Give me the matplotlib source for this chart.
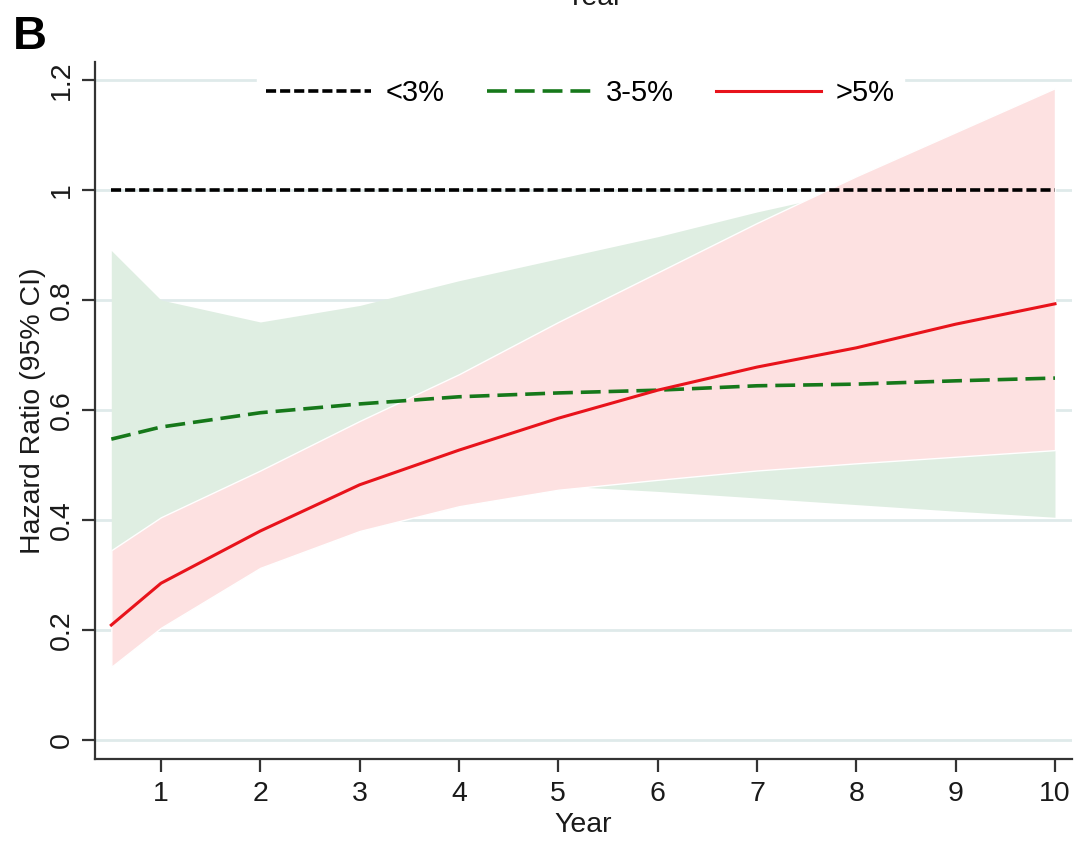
import numpy as np
import matplotlib
matplotlib.use("Agg")
import matplotlib.pyplot as plt

plt.rcParams["font.family"] = ["Liberation Sans", "DejaVu Sans"]

# ---- data ----
years = [0.5, 1, 2, 3, 4, 5, 6, 7, 8, 9, 10]

ref_hr = [1, 1, 1, 1, 1, 1, 1, 1, 1, 1, 1]

mid_hr = [0.547, 0.569, 0.595, 0.611, 0.624, 0.631, 0.636, 0.644, 0.647, 0.653, 0.658]
mid_lo = [0.34, 0.40, 0.45, 0.47, 0.47, 0.462, 0.452, 0.44, 0.428, 0.416, 0.405]
mid_hi = [0.89, 0.80, 0.76, 0.79, 0.835, 0.875, 0.915, 0.96, 1.0, 1.04, 1.08]

high_hr = [0.209, 0.285, 0.38, 0.464, 0.527, 0.585, 0.636, 0.678, 0.713, 0.756, 0.793]
high_lo = [0.133, 0.204, 0.313, 0.38, 0.425, 0.455, 0.473, 0.49, 0.503, 0.515, 0.527]
high_hi = [0.345, 0.405, 0.49, 0.58, 0.665, 0.76, 0.85, 0.94, 1.025, 1.105, 1.185]

labels = ["<3%", "3-5%", ">5%"]
yticks = [0, 0.2, 0.4, 0.6, 0.8, 1, 1.2]
ytick_labels = ["0", "0.2", "0.4", "0.6", "0.8", "1", "1.2"]
xticks = [1, 2, 3, 4, 5, 6, 7, 8, 9, 10]

# ---- figure ----
fig = plt.figure(figsize=(10.78, 8.42), dpi=100)
ax = fig.add_axes([0.0881, 0.0986, 0.9063, 0.8278])

for yt in yticks:
    ax.axhline(yt, color="#dfeaea", lw=2, zorder=0)

ax.fill_between(years, mid_lo, mid_hi, color="#dfeee2", lw=0, zorder=1)
ax.fill_between(years, high_lo, high_hi, facecolor="#fde1e1", edgecolor="white",
                lw=1, zorder=2)

l1, = ax.plot(years, ref_hr, color="black", lw=2.6, dashes=(2.8, 1.1), zorder=3)
l2, = ax.plot(years, mid_hr, color="#16781a", lw=2.6, dashes=(5.5, 2.2), zorder=4)
l3, = ax.plot(years, high_hr, color="#e8131b", lw=2.2, zorder=5)

ax.set_xlim(0.3355, 10.171)
ax.set_ylim(-0.0345, 1.2327)

ax.set_xticks(xticks)
ax.set_yticks(yticks)
ax.set_yticklabels(ytick_labels, rotation=90, va="center")
ax.tick_params(axis="both", labelsize=20.5, length=9.5, width=1.6, color="#333333",
               labelcolor="#1a1a1a")
ax.tick_params(axis="x", pad=6)
ax.tick_params(axis="y", pad=5)

for s in ["top", "right"]:
    ax.spines[s].set_visible(False)
for s in ["left", "bottom"]:
    ax.spines[s].set_color("#333333")
    ax.spines[s].set_linewidth(1.6)

ax.set_xlabel("Year", fontsize=20.5, labelpad=4, color="#1a1a1a")
ax.set_ylabel("Hazard Ratio (95% CI)", fontsize=20.5, labelpad=2, color="#1a1a1a")

leg = ax.legend([l1, l2, l3], labels, loc="center", bbox_to_anchor=(0.497, 0.9555),
                ncol=3, fontsize=21, frameon=True, handlelength=3.6,
                handletextpad=0.5, columnspacing=1.44, borderpad=0.3)
leg.get_frame().set_facecolor("white")
leg.get_frame().set_edgecolor("white")
leg.get_frame().set_alpha(1)
leg.get_frame().set_boxstyle("square", pad=0)

fig.text(0.012, 0.942, "B", fontsize=34, fontweight="bold")
fig.text(0.551, 0.987, "Year", fontsize=20.5, ha="center", va="bottom", color="#1a1a1a")

fig.savefig("out.png", dpi=100)
